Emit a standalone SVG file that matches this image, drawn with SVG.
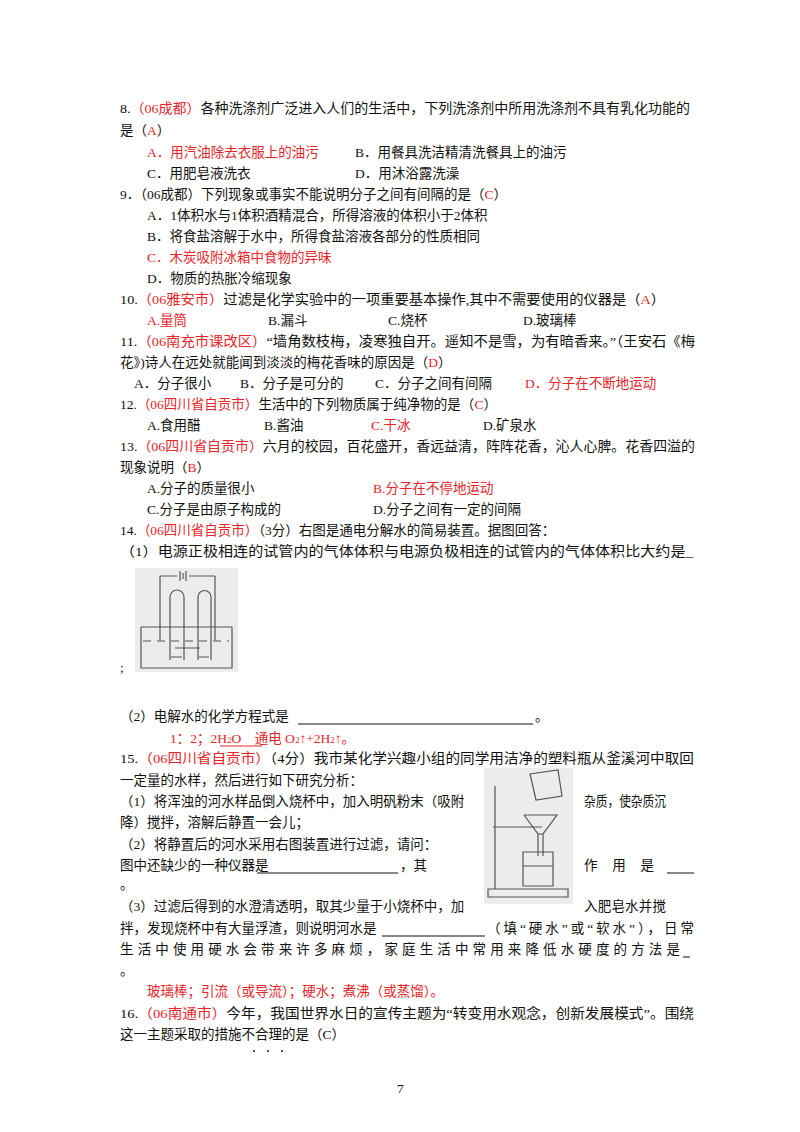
<svg xmlns="http://www.w3.org/2000/svg" width="800" height="1132" viewBox="0 0 800 1132">
<style>
text{font-family:"Liberation Serif","Noto Sans CJK SC",serif;font-size:13.5px;fill:#111}
.r{fill:#e8262a}
.k{stroke:#555;fill:none;stroke-width:1.2}
</style>
<rect width="800" height="1132" fill="#fff"/>
<g id="q8">
<text x="120" y="113" textLength="570" lengthAdjust="spacingAndGlyphs">8.<tspan class="r">（06成都）</tspan>各种洗涤剂广泛进入人们的生活中，下列洗涤剂中所用洗涤剂不具有乳化功能的</text>
<text x="120" y="135">是（<tspan class="r">A</tspan>）</text>
<text x="147" y="157" class="r">A．用汽油除去衣服上的油污</text>
<text x="355" y="157">B．用餐具洗洁精清洗餐具上的油污</text>
<text x="147" y="178">C．用肥皂液洗衣</text>
<text x="355" y="178">D．用沐浴露洗澡</text>
</g>
<g id="q9">
<text x="120" y="199">9．（06成都）下列现象或事实不能说明分子之间有间隔的是（<tspan class="r">C</tspan>）</text>
<text x="147" y="220">A．1体积水与1体积酒精混合，所得溶液的体积小于2体积</text>
<text x="147" y="241">B．将食盐溶解于水中，所得食盐溶液各部分的性质相同</text>
<text x="147" y="262" class="r">C．木炭吸附冰箱中食物的异味</text>
<text x="147" y="283">D．物质的热胀冷缩现象</text>
</g>
<g id="q10">
<text x="120" y="304" textLength="545" lengthAdjust="spacingAndGlyphs">10.<tspan class="r">（06雅安市）</tspan>过滤是化学实验中的一项重要基本操作,其中不需要使用的仪器是（<tspan class="r">A</tspan>）</text>
<text x="147" y="325" class="r">A.量筒</text>
<text x="268" y="325">B.漏斗</text>
<text x="388" y="325">C.烧杯</text>
<text x="523" y="325">D.玻璃棒</text>
</g>
<g id="q11">
<text x="120" y="346" textLength="575" lengthAdjust="spacingAndGlyphs">11.<tspan class="r">（06南充市课改区）</tspan>“墙角数枝梅，凌寒独自开。遥知不是雪，为有暗香来。”（王安石《梅</text>
<text x="120" y="367">花》)诗人在远处就能闻到淡淡的梅花香味的原因是（<tspan class="r">D</tspan>）</text>
<text x="134" y="388">A．分子很小</text>
<text x="240" y="388">B．分子是可分的</text>
<text x="375" y="388">C．分子之间有间隔</text>
<text x="525" y="388" class="r">D．分子在不断地运动</text>
</g>
<g id="q12">
<text x="120" y="409">12.<tspan class="r">（06四川省自贡市）</tspan>生活中的下列物质属于纯净物的是（<tspan class="r">C</tspan>）</text>
<text x="147" y="430">A.食用醋</text>
<text x="264" y="430">B.酱油</text>
<text x="371" y="430" class="r">C.干冰</text>
<text x="483" y="430">D.矿泉水</text>
</g>
<g id="q13">
<text x="120" y="451" textLength="575" lengthAdjust="spacingAndGlyphs">13.<tspan class="r">（06四川省自贡市）</tspan>六月的校园，百花盛开，香远益清，阵阵花香，沁人心脾。花香四溢的</text>
<text x="120" y="472">现象说明（<tspan class="r">B</tspan>）</text>
<text x="147" y="493">A.分子的质量很小</text>
<text x="373" y="493" class="r">B.分子在不停地运动</text>
<text x="147" y="514">C.分子是由原子构成的</text>
<text x="373" y="514">D.分子之间有一定的间隔</text>
</g>
<g id="q14">
<text x="120" y="535">14.<tspan class="r">（06四川省自贡市）</tspan>（3分）右图是通电分解水的简易装置。据图回答：</text>
<text x="120" y="556" textLength="573" lengthAdjust="spacingAndGlyphs">（1）电源正极相连的试管内的气体体积与电源负极相连的试管内的气体体积比大约是_</text>
<g id="electrolysis">
<rect x="135" y="568" width="103" height="104" fill="#ececec"/>
<path class="k" d="M160 576 H177 M189 576 H215 M180 571 V581 M183 573 V579 M186 571 V581"/>
<path class="k" d="M160 576 V640 M215 576 V640"/>
<path class="k" d="M170 660 V597 a7 7 0 0 1 14 0 V660 M198 660 V597 a6 6 0 0 1 13 0 V660"/>
<path class="k" d="M141 627 H232 M141 627 V668 H232 V627"/>
<path class="k" d="M143 641 H229" stroke-dasharray="8 6"/>
<path class="k" d="M171 657 H182 M199 657 H209 M175 648 H200"/>
</g>
<text x="120" y="672">;</text>
<text x="120" y="721">（2）电解水的化学方程式是</text>
<line x1="298" y1="724" x2="533" y2="724" stroke="#111" stroke-width="1"/>
<text x="535" y="721">。</text>
<text x="170" y="743" class="r">1：2；2H<tspan font-size="9">2</tspan>O　通电 O<tspan font-size="9">2</tspan>↑+2H<tspan font-size="9">2</tspan>↑。</text>
<line x1="220" y1="746" x2="262" y2="746" stroke="#e8262a" stroke-width="1.2"/>
</g>
<g id="q15">
<text x="120" y="763" textLength="574" lengthAdjust="spacingAndGlyphs">15.<tspan class="r">（06四川省自贡市）</tspan>（4分）我市某化学兴趣小组的同学用洁净的塑料瓶从釜溪河中取回</text>
<text x="120" y="785">一定量的水样，然后进行如下研究分析：</text>
<g id="filter">
<rect x="484" y="768" width="89" height="136" fill="#ececec"/>
<path class="k" d="M488 897 H568 V889 H488 Z M495 889 V786 M493 827 H542"/>
<path class="k" d="M524 815 L557 815 L543 834 V856 M524 815 L538 834 V856 M538 834 H543"/>
<path class="k" d="M523 852 H553 V886 H523 Z M523 866 H553"/>
<path class="k" d="M530 774 L558 770 L562 796 L536 800 Z"/>
</g>
<text x="120" y="806">（1）将浑浊的河水样品倒入烧杯中，加入明矾粉末（吸附</text>
<text x="584" y="806" textLength="82" lengthAdjust="spacingAndGlyphs">杂质，使杂质沉</text>
<text x="120" y="827">降）搅拌，溶解后静置一会儿；</text>
<text x="120" y="849">（2）将静置后的河水采用右图装置进行过滤，请问：</text>
<text x="120" y="870">图中还缺少的一种仪器是</text>
<line x1="257" y1="873" x2="398" y2="873" stroke="#111"/>
<text x="400" y="870">，其</text>
<text x="584" y="870" textLength="70" lengthAdjust="spacing">作用是</text>
<line x1="667" y1="873" x2="694" y2="873" stroke="#111"/>
<text x="120" y="889">。</text>
<text x="120" y="911">（3）过滤后得到的水澄清透明，取其少量于小烧杯中，加</text>
<text x="584" y="911" textLength="82" lengthAdjust="spacing">入肥皂水并搅</text>
<text x="120" y="933">拌，发现烧杯中有大量浮渣，则说明河水是</text>
<line x1="382" y1="936" x2="485" y2="936" stroke="#111"/>
<text x="487" y="933" textLength="207" lengthAdjust="spacing">（填“硬水”或“软水”），日常</text>
<text x="120" y="954" textLength="560" lengthAdjust="spacing">生活中使用硬水会带来许多麻烦，家庭生活中常用来降低水硬度的方法是</text>
<line x1="683" y1="957" x2="690" y2="957" stroke="#111"/>
<text x="120" y="975">。</text>
<text x="147" y="996" class="r">玻璃棒；引流（或导流）；硬水；煮沸（或蒸馏）。</text>
</g>
<g id="q16">
<text x="120" y="1018" textLength="574" lengthAdjust="spacingAndGlyphs">16.<tspan class="r">（06南通市）</tspan>今年，我国世界水日的宣传主题为“转变用水观念，创新发展模式”。围绕</text>
<text x="120" y="1039">这一主题采取的措施不合理的是（C）</text>
<circle cx="254" cy="1051" r="1" fill="#111"/><circle cx="268" cy="1051" r="1" fill="#111"/><circle cx="282" cy="1051" r="1" fill="#111"/>
</g>
<text x="397" y="1093" font-size="11">7</text>
</svg>
